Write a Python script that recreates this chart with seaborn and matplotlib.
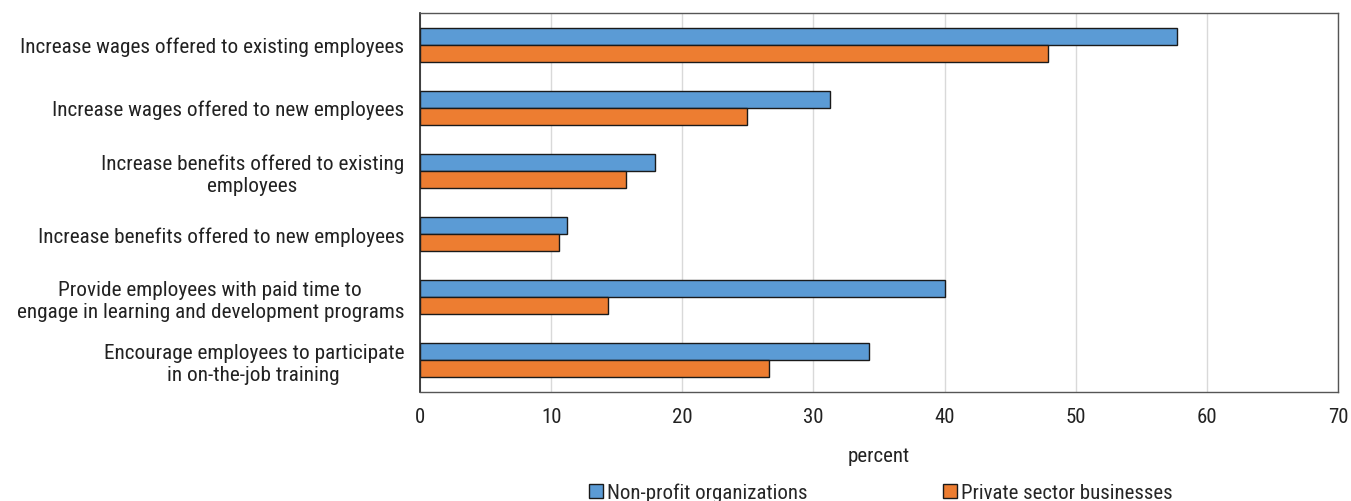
import matplotlib
matplotlib.use("Agg")
import matplotlib.pyplot as plt
import seaborn as sns
import pandas as pd
from matplotlib.patches import Patch

categories = [
    "Increase wages offered to existing employees",
    "Increase wages offered to new employees",
    "Increase benefits offered to existing\nemployees",
    "Increase benefits offered to new employees",
    "Provide employees with paid time to\nengage in learning and development programs",
    "Encourage employees to participate\nin on-the-job training",
]
series_names = ["Non-profit organizations", "Private sector businesses"]
nonprofit = [57.7, 31.3, 17.9, 11.2, 40.0, 34.2]
private = [47.9, 24.9, 15.7, 10.6, 14.3, 26.6]
colors = ["#5B9BD5", "#ED7D31"]

df = pd.DataFrame({
    "category": categories * 2,
    "series": [series_names[0]] * len(categories) + [series_names[1]] * len(categories),
    "percent": nonprofit + private,
})

sns.set_theme(style="white")
plt.rcParams["font.family"] = ["Roboto Condensed", "DejaVu Sans"]

fig = plt.figure(figsize=(13.51, 5.02), dpi=100)
ax = fig.add_axes([420 / 1351, 1 - 393 / 502, (1338 - 420) / 1351, (393 - 14) / 502])

sns.barplot(
    data=df, y="category", x="percent", hue="series", order=categories,
    hue_order=series_names, palette=colors, orient="h", width=0.54,
    edgecolor="#1a1a1a", linewidth=1.0, saturation=1, ax=ax, legend=False,
)

ax.set_xlim(0, 70)
ax.set_xticks(range(0, 71, 10))
ax.set_ylim(5.5, -0.5)
ax.xaxis.grid(True, color="#d9d9d9", linewidth=1)
ax.set_axisbelow(True)
for side in ["top", "right", "bottom"]:
    ax.spines[side].set_color("#555555")
    ax.spines[side].set_linewidth(1)
ax.spines["left"].set_color("#222222")
ax.spines["left"].set_linewidth(1.2)

text_color = "#222222"
ax.set_ylabel("")
ax.set_xlabel("percent", fontsize=15, color=text_color, labelpad=14)
ax.tick_params(axis="x", labelsize=15, colors=text_color, length=0, pad=11)
ax.tick_params(axis="y", labelsize=15.3, colors=text_color, length=0, pad=11.5)
for lbl in ax.get_yticklabels():
    lbl.set_horizontalalignment("right")
    lbl.set_multialignment("center")

handles = [Patch(facecolor=c, edgecolor="#1a1a1a", linewidth=1.0) for c in colors]
fig.legend(
    handles, series_names, loc="lower center", bbox_to_anchor=(0.652, -0.04),
    ncol=2, frameon=False, fontsize=15, handlelength=0.65, handleheight=0.65,
    handletextpad=0.2, columnspacing=6.5,
)

fig.savefig("out.png", dpi=100, facecolor="white")
